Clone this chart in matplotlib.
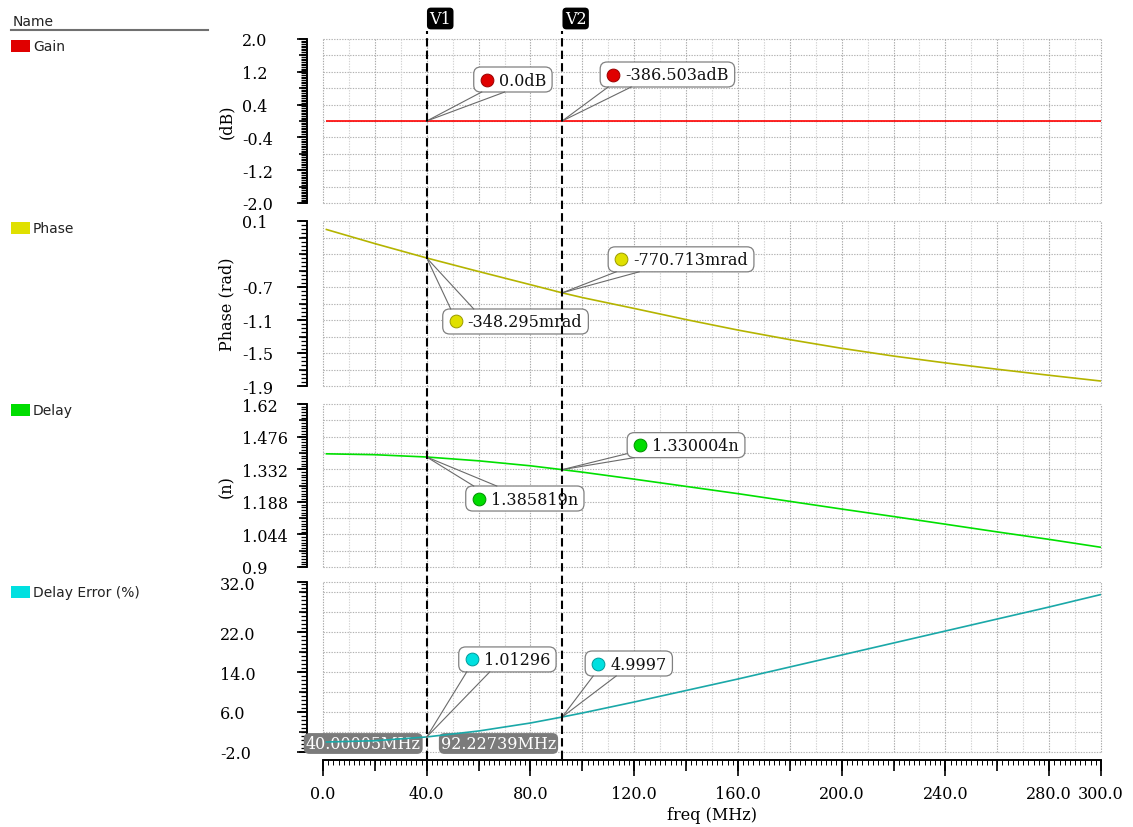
import numpy as np
import matplotlib
matplotlib.use("Agg")
import matplotlib.pyplot as plt
import matplotlib.transforms as mtransforms
from matplotlib.patches import FancyBboxPatch, Rectangle
from matplotlib.lines import Line2D
from matplotlib.ticker import FixedLocator, NullLocator

plt.rcParams['font.family'] = ['DejaVu Serif']

# ---------------- data ----------------
freq_mhz = [1.0, 20.0, 40.00005, 60.0, 80.0, 92.22739, 100.0, 120.0, 140.0, 160.0,
            180.0, 200.0, 220.0, 240.0, 260.0, 280.0, 300.0]
gain_db = [0.0, 0.0, 0.0, 0.0, 0.0, 0.0, 0.0, 0.0, 0.0, 0.0,
           0.0, 0.0, 0.0, 0.0, 0.0, 0.0, 0.0]
phase_rad = [0.000, -0.174, -0.348295, -0.512, -0.672, -0.770713, -0.828, -0.960, -1.095, -1.222,
             -1.338, -1.443, -1.537, -1.620, -1.697, -1.770, -1.840]
delay_ns = [1.400, 1.396, 1.385819, 1.369, 1.347, 1.330004, 1.319, 1.288, 1.256, 1.224,
            1.190, 1.156, 1.123, 1.089, 1.055, 1.022, 0.987]
delay_err_pct = [0.0, 0.25, 1.01296, 2.2, 3.8, 4.9997, 5.8, 8.0, 10.3, 12.6,
                 15.0, 17.4, 19.8, 22.2, 24.6, 27.0, 29.5]

cursor_names = ["V1", "V2"]
cursor_freq_mhz = [40.00005, 92.22739]
cursor_freq_text = ["40.00005MHz", "92.22739MHz"]

gain_at_cursor = [0.0, -386.503e-18]
phase_at_cursor = [-0.348295, -0.770713]
delay_at_cursor = [1.385819, 1.330004]
err_at_cursor = [1.01296, 4.9997]

gain_text = ["0.0dB", "-386.503adB"]
phase_text = ["-348.295mrad", "-770.713mrad"]
delay_text = ["1.385819n", "1.330004n"]
err_text = ["1.01296", "4.9997"]

series_names = ["Gain", "Phase", "Delay", "Delay Error (%)"]
y_axis_labels = ["(dB)", "Phase (rad)", "(n)", ""]

gain_ticks = [2.0, 1.2, 0.4, -0.4, -1.2, -2.0]
gain_tick_text = ["2.0", "1.2", "0.4", "-0.4", "-1.2", "-2.0"]
phase_ticks = [0.1, -0.7, -1.1, -1.5, -1.9]
phase_tick_text = ["0.1", "-0.7", "-1.1", "-1.5", "-1.9"]
delay_ticks = [1.62, 1.476, 1.332, 1.188, 1.044, 0.9]
delay_tick_text = ["1.62", "1.476", "1.332", "1.188", "1.044", "0.9"]
err_ticks = [32.0, 22.0, 14.0, 6.0, -2.0]
err_tick_text = ["32.0", "22.0", "14.0", "6.0", "-2.0"]
x_ticks = [0, 40, 80, 120, 160, 200, 240, 280, 300]
x_tick_text = ["0.0", "40.0", "80.0", "120.0", "160.0", "200.0", "240.0", "280.0", "300.0"]

# ---------------- layout / style ----------------
W, H = 1133, 828
PT = 72.0 / 100.0  # pixel -> point
LEFT, RIGHT = 323, 1101
FS = 11.5

fig = plt.figure(figsize=(W / 100, H / 100), dpi=100)
fig.patch.set_facecolor("white")


def frac_rect(l, t, r, b):
    return [l / W, 1 - b / H, (r - l) / W, (b - t) / H]


panels = [
    dict(values=gain_db, ylim=(-2.0, 2.0), ticks=gain_ticks, tick_text=gain_tick_text,
         grid_step=0.4, ruler_step=0.04, line="#ff0000", swatch="#e00000", dot_edge="#9a0000",
         cur_vals=gain_at_cursor, cur_text=gain_text, label_x=242, px=(40, 204),
         offsets=[(47, 29), (38, 34)], tails=[None, None], legend_y=47),
    dict(values=phase_rad, ylim=(-1.9, 0.1), ticks=phase_ticks, tick_text=phase_tick_text,
         grid_step=0.2, ruler_step=0.05, line="#b4b400", swatch="#e0e000", dot_edge="#9a9a00",
         cur_vals=phase_at_cursor, cur_text=phase_text, label_x=242, px=(222, 387),
         offsets=[(16, -76), (46, 21)], tails=[None, None], legend_y=229),
    dict(values=delay_ns, ylim=(0.9, 1.62), ticks=delay_ticks, tick_text=delay_tick_text,
         grid_step=0.072, ruler_step=0.012, line="#00e000", swatch="#00dd00", dot_edge="#009000",
         cur_vals=delay_at_cursor, cur_text=delay_text, label_x=242, px=(405, 568),
         offsets=[(39, -54), (65, 12)], tails=[None, [(0, 4), (7, 0)]], legend_y=411),
    dict(values=delay_err_pct, ylim=(-2.0, 32.0), ticks=err_ticks, tick_text=err_tick_text,
         grid_step=4.0, ruler_step=0.8, line="#1aa8a8", swatch="#00e0e0", dot_edge="#009a9a",
         cur_vals=err_at_cursor, cur_text=err_text, label_x=220, px=(583, 753),
         offsets=[(32, 65), (23, 41)], tails=[None, None], legend_y=593),
]

renderer = fig.canvas.get_renderer()


def callout(ax, x, y, text, dot_color, dot_edge, dx, dy, tail=None, h=25):
    trans = mtransforms.ScaledTranslation(x, y, ax.transData)
    t = ax.text(dx + 25, dy + h / 2 - 0.5, text, transform=trans, ha="left", va="center",
                fontsize=FS, color="#111111", zorder=7, clip_on=False)
    tw = t.get_window_extent(renderer).width
    w = 25 + tw + 6
    box = FancyBboxPatch((dx, dy), w, h, boxstyle="round,pad=0,rounding_size=7",
                         fc="white", ec="#808080", lw=0.9, transform=trans, zorder=5)
    box.set_clip_on(False)
    ax.add_artist(box)
    if tail is None:
        edge = 0 if dy > 0 else h
        tail = [(8, edge), (31, edge)]
    for (ax_, ay_) in tail:
        ln = Line2D([0, dx + ax_], [0, dy + ay_], transform=trans, color="#6a6a6a",
                    lw=0.8, zorder=6)
        ln.set_clip_on(False)
        ax.add_artist(ln)
    dot = Line2D([dx + 13], [dy + h / 2], transform=trans, marker="o", ms=9.2,
                 mfc=dot_color, mec=dot_edge, mew=0.7, ls="none", zorder=7)
    dot.set_clip_on(False)
    ax.add_artist(dot)


axes = []
for i, p in enumerate(panels):
    top, bot = p["px"]
    ax = fig.add_axes(frac_rect(LEFT, top, RIGHT, bot))
    axes.append(ax)
    lo, hi = p["ylim"]
    ax.set_xlim(0, 300)
    ax.set_ylim(lo, hi)
    ax.set_facecolor("white")
    for s in ["top", "right", "bottom"]:
        ax.spines[s].set_visible(False)
    ax.spines["left"].set_position(("outward", 16 * PT))
    ax.spines["left"].set_linewidth(1.2)

    # grid
    grid = list(np.arange(lo, hi + 1e-9, p["grid_step"]))
    if abs(grid[-1] - hi) > 1e-6:
        grid.append(hi)
    for g in grid:
        ax.axhline(g, color="#b2b2b2", lw=0.8, ls=(0, (1.2, 1.2)), zorder=0, clip_on=False)
    for gx in range(0, 301, 10):
        c = "#a8a8a8" if gx % 20 == 0 else "#d2d2d2"
        ax.axvline(gx, color=c, lw=0.8, ls=(0, (1.2, 1.2)), zorder=0, clip_on=False)

    # y ruler
    ax.set_yticks(p["ticks"], labels=p["tick_text"], ha="left", fontsize=FS)
    ax.yaxis.set_minor_locator(FixedLocator(list(np.arange(lo, hi + 1e-9, p["ruler_step"]))))
    pad_px = (LEFT - 16) - 10 - p["label_x"]
    ax.tick_params(axis="y", which="major", direction="out", length=10 * PT, width=1.2,
                   pad=pad_px * PT)
    ax.tick_params(axis="y", which="minor", left=True, direction="out", length=6 * PT,
                   width=0.9, color="black")
    sec = ax.secondary_yaxis("left")
    sec.spines["left"].set_position(("outward", 16 * PT))
    sec.spines["left"].set_linewidth(1.2)
    sec.set_yticks(grid)
    sec.yaxis.set_minor_locator(NullLocator())
    sec.tick_params(axis="y", which="major", direction="out", length=8 * PT, width=1.2,
                    labelleft=False)

    if y_axis_labels[i]:
        ax.set_ylabel(y_axis_labels[i], fontsize=FS, va="center")
        ax.yaxis.set_label_coords((227 - LEFT) / (RIGHT - LEFT), 0.5)

    # curve
    ax.plot(freq_mhz, p["values"], color=p["line"], lw=1.2, zorder=4, solid_capstyle="butt")

    # callouts
    for k in range(2):
        dx, dy = p["offsets"][k]
        callout(ax, cursor_freq_mhz[k], p["cur_vals"][k], p["cur_text"][k],
                p["swatch"], p["dot_edge"], dx, dy, tail=p["tails"][k])

    if i < 3:
        ax.tick_params(axis="x", which="both", bottom=False, labelbottom=False)
    else:
        ax.spines["bottom"].set_visible(True)
        ax.spines["bottom"].set_position(("outward", 7.5 * PT))
        ax.spines["bottom"].set_linewidth(1.2)
        ax.set_xticks(x_ticks, labels=x_tick_text, fontsize=FS)
        ax.xaxis.set_minor_locator(FixedLocator(np.arange(0, 301, 2)))
        ax.tick_params(axis="x", which="major", direction="out", length=16 * PT, width=1.2,
                       pad=6.5)
        ax.tick_params(axis="x", which="minor", direction="out", length=5 * PT, width=0.7)
        secx = ax.secondary_xaxis("bottom")
        secx.spines["bottom"].set_position(("outward", 7.5 * PT))
        secx.spines["bottom"].set_linewidth(1.2)
        secx.set_xticks(np.arange(0, 301, 20))
        secx.xaxis.set_minor_locator(NullLocator())
        secx.tick_params(axis="x", which="major", direction="out", length=11 * PT, width=1.2,
                         labelbottom=False)
        ax.set_xlabel("freq (MHz)", fontsize=FS, labelpad=3)
        # cursor frequency tags
        for f, txt in zip(cursor_freq_mhz, cursor_freq_text):
            ax.annotate(txt, xy=(f, lo), xycoords="data", xytext=(-6, 8.5),
                        textcoords="offset pixels", ha="right", va="center", color="white",
                        fontsize=FS, zorder=3, annotation_clip=False,
                        bbox=dict(boxstyle="round,pad=0.12,rounding_size=0.35",
                                  fc="#7b7b7b", ec="none"))

# ---------------- legend column ----------------
fig.text(13 / W, 1 - 22 / H, "Name", family="DejaVu Sans", fontsize=10, va="center",
         ha="left", color="#222222")
fig.add_artist(Line2D([11 / W, 208 / W], [1 - 31 / H, 1 - 31 / H], color="#707070", lw=1.5))
for name, p in zip(series_names, panels):
    yc = p["legend_y"]
    fig.add_artist(Rectangle((11 / W, 1 - (yc + 6) / H), 19 / W, 12 / H,
                             fc=p["swatch"], ec="none"))
    fig.text(33 / W, 1 - yc / H, name, family="DejaVu Sans", fontsize=10, va="center",
             ha="left", color="#222222")

# ---------------- cursors ----------------
axc = fig.add_axes(frac_rect(LEFT, 32, RIGHT, 760))
axc.set_xlim(0, 300)
axc.set_ylim(0, 1)
axc.axis("off")
axc.set_zorder(10)
for f, name in zip(cursor_freq_mhz, cursor_names):
    axc.axvline(f, 0, 1, color="black", lw=1.5, ls=(0, (4, 2)))
    axc.annotate(name, xy=(f, 1.0), xycoords="data", xytext=(13.5, 12.5),
                 textcoords="offset pixels", ha="center", va="center", color="white",
                 fontsize=FS, annotation_clip=False,
                 bbox=dict(boxstyle="round,pad=0.15,rounding_size=0.25", fc="black", ec="none"))

fig.savefig("out.png", dpi=100)
